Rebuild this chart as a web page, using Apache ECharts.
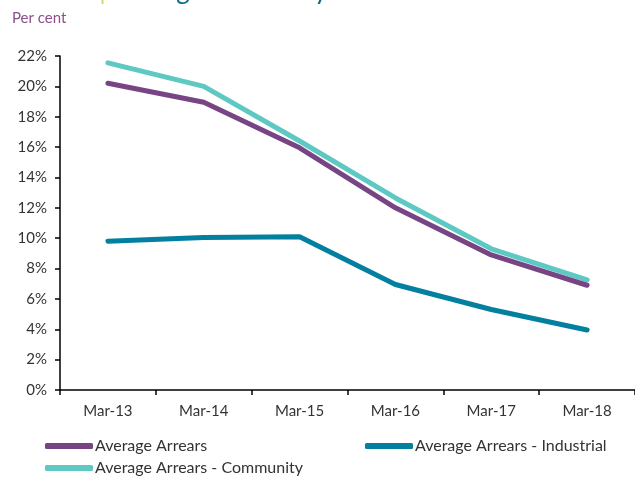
<!DOCTYPE html>
<html>
<head>
<meta charset="utf-8">
<script src="https://cdn.jsdelivr.net/npm/echarts@6/dist/echarts.min.js"></script>
<style>
  html, body { margin: 0; padding: 0; background: #ffffff; }
  #chart { width: 635px; height: 477px; }
</style>
</head>
<body>
<div id="chart"></div>
<script>
// Quarter labels along the x axis
const categories = ['Mar-13', 'Mar-14', 'Mar-15', 'Mar-16', 'Mar-17', 'Mar-18'];

// Arrears as a share (per cent)
const averageArrears = [20.2, 18.95, 15.95, 12.0, 8.9, 6.9];
const industrialArrears = [9.8, 10.05, 10.1, 6.95, 5.3, 3.95];
const communityArrears = [21.55, 20.0, 16.4, 12.65, 9.3, 7.25];

// Y axis range and step (per cent)
const yMin = 0;
const yMax = 22;
const yStep = 2;

const seriesNames = ['Average Arrears', 'Average Arrears - Industrial', 'Average Arrears - Community'];
const colors = ['#784584', '#037fa0', '#5dc9c2'];

const chart = echarts.init(document.getElementById('chart'), null, { renderer: 'canvas' });

const fontFamily = 'Lato, "Open Sans", sans-serif';

// One single-item legend per entry so each can be placed on its own
const legendSpots = [
  { name: seriesNames[0], left: 45, top: 438 },
  { name: seriesNames[1], left: 365, top: 438 },
  { name: seriesNames[2], left: 45, top: 460 }
];

chart.setOption({
  backgroundColor: '#ffffff',
  animation: false,
  title: [
    {
      text: '{a|Chart 3} {b||} {c|Average Arrears by Sector Trend}',
      left: 4,
      top: -27,
      textStyle: {
        fontWeight: 'normal',
        rich: {
          a: { fontSize: 26, color: '#3f9fb5', fontFamily },
          b: { fontSize: 26, color: '#c5d96a', fontFamily },
          c: { fontSize: 26, color: '#0e6a86', fontFamily }
        }
      }
    },
    {
      text: 'Per cent',
      left: 7,
      top: 6,
      textStyle: { fontSize: 15, fontWeight: 'normal', color: '#8a4f8c', fontFamily }
    }
  ],
  legend: legendSpots.map(l => ({
    data: [l.name],
    left: l.left,
    top: l.top,
    padding: 0,
    itemWidth: 48,
    itemHeight: 6,
    icon: 'roundRect',
    textStyle: { fontSize: 16, color: '#333333', fontFamily, padding: [0, 0, 0, -3] }
  })),
  grid: { left: 60, right: -3, top: 56, bottom: 87, containLabel: false },
  xAxis: {
    type: 'category',
    data: categories,
    boundaryGap: true,
    axisLine: { lineStyle: { color: '#000000', width: 1.5 } },
    axisTick: { show: true, length: 5, lineStyle: { color: '#000000', width: 1.5 } },
    axisLabel: { fontSize: 15, color: '#333333', fontFamily, margin: 14 }
  },
  yAxis: {
    type: 'value',
    min: yMin,
    max: yMax,
    interval: yStep,
    axisLine: { show: true, lineStyle: { color: '#000000', width: 1.5 } },
    axisTick: { show: true, length: 5, lineStyle: { color: '#000000', width: 1.5 } },
    splitLine: { show: false },
    axisLabel: { fontSize: 15, color: '#333333', fontFamily, margin: 13, formatter: v => v + '%' }
  },
  series: [
    { name: seriesNames[0], data: averageArrears },
    { name: seriesNames[1], data: industrialArrears },
    { name: seriesNames[2], data: communityArrears }
  ].map((s, i) => ({
    ...s,
    type: 'line',
    showSymbol: false,
    symbol: 'none',
    color: colors[i],
    lineStyle: { width: 5, color: colors[i], cap: 'round', join: 'round' },
    z: i === 2 ? 1 : 2
  }))
});
</script>
</body>
</html>
